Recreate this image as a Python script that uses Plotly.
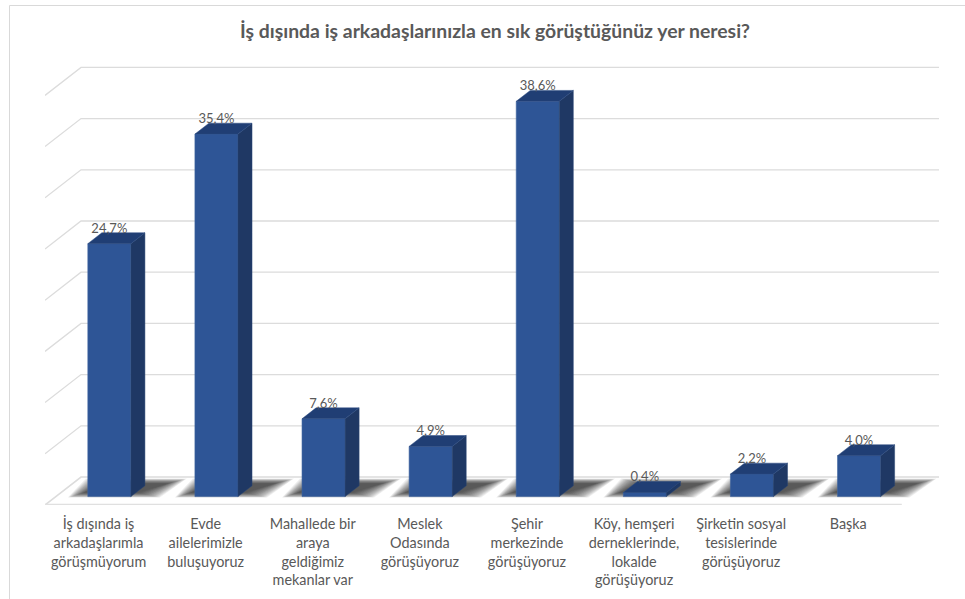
import plotly.graph_objects as go

# Survey answers and their shares (%)
categories = [
    "İş dışında iş<br>arkadaşlarımla<br>görüşmüyorum",
    "Evde<br>ailelerimizle<br>buluşuyoruz",
    "Mahallede bir<br>araya<br>geldiğimiz<br>mekanlar var",
    "Meslek<br>Odasında<br>görüşüyoruz",
    "Şehir<br>merkezinde<br>görüşüyoruz",
    "Köy, hemşeri<br>derneklerinde,<br>lokalde<br>görüşüyoruz",
    "Şirketin sosyal<br>tesislerinde<br>görüşüyoruz",
    "Başka",
]
shares = [24.7, 35.4, 7.6, 4.9, 38.6, 0.4, 2.2, 4.0]
grid_levels = [0, 5, 10, 15, 20, 25, 30, 35, 40]
title_text = "İş dışında iş arkadaşlarınızla en sık görüştüğünüz yer neresi?"

W, H = 965, 599
LEFT, RIGHT, TOP, BOTTOM = 45, 939, 60, 505
PX_X = 107.1   # pixels per category
PX_Y = 10.24   # pixels per percentage point
DEPTH_X = 36 / PX_X   # oblique projection of the full floor depth
DEPTH_Y = 28 / PX_Y
BAR_W = 0.402
D_FRONT, D_BACK = 0.30, 0.69

x_range = [-0.5, -0.5 + (RIGHT - LEFT) / PX_X]
y_range = [0, (BOTTOM - TOP) / PX_Y]


def project(x, v, d):
    """Oblique projection: category x, value v, depth d (0 front, 1 back)."""
    return x + d * DEPTH_X, v + d * DEPTH_Y


def polygon_path(points):
    return "M " + " L ".join(f"{x:.4f},{y:.4f}" for x, y in points) + " Z"


def faces(builder):
    xs, ys = [], []
    for i, v in enumerate(shares):
        for x, y in builder(i, v):
            xs.append(x)
            ys.append(y)
        xs.append(None)
        ys.append(None)
    return xs, ys


def side_face(i, v):
    r = i + BAR_W / 2
    return [project(r, 0, D_FRONT), project(r, 0, D_BACK),
            project(r, v, D_BACK), project(r, v, D_FRONT),
            project(r, 0, D_FRONT)]


def top_face(i, v):
    l, r = i - BAR_W / 2, i + BAR_W / 2
    return [project(l, v, D_FRONT), project(r, v, D_FRONT),
            project(r, v, D_BACK), project(l, v, D_BACK),
            project(l, v, D_FRONT)]


GRID = "#dcdcdc"
shapes = []


def line_shape(pts, width=1.4, color=GRID):
    shapes.append(dict(type="path", xref="x", yref="y", layer="below",
                       path="M " + " L ".join(f"{x:.4f},{y:.4f}" for x, y in pts),
                       line=dict(color=color, width=width)))


# Back wall gridlines with their diagonal returns towards the viewer
for level in grid_levels:
    line_shape([project(x_range[0], level, 0),
                project(x_range[0], level, 1),
                (x_range[1], level + DEPTH_Y)],
               width=1.6 if level == 0 else 1.3)
# Front edge of the floor
line_shape([(x_range[0], 0), (7.5, 0)], width=2.6, color="#e0e0e0")

# Soft floor shadows: stacked translucent parallelograms from wide to narrow
SHADOW_LAYERS = 18
for i in range(len(shares)):
    for k in range(SHADOW_LAYERS):
        t = k / (SHADOW_LAYERS - 1)
        def mix(a, b):
            return a + (b - a) * t
        front_px = mix(-1, 4)      # pixels above the bar's base line
        back_px = mix(18, 13)
        fl = mix(-20, -4) / PX_X
        fr = mix(72, 50) / PX_X
        bl = mix(-2, 16) / PX_X
        br = mix(99, 80) / PX_X
        x0 = i + D_FRONT * DEPTH_X - BAR_W / 2
        v0 = D_FRONT * DEPTH_Y
        pts = [(x0 + fl, v0 + front_px / PX_Y), (x0 + fr, v0 + front_px / PX_Y),
               (x0 + br, v0 + back_px / PX_Y), (x0 + bl, v0 + back_px / PX_Y)]
        shapes.append(dict(type="path", xref="x", yref="y", layer="below",
                           path=polygon_path(pts), fillcolor="rgba(40,40,40,0.075)",
                           line=dict(width=0)))

# Outer frame of the chart area, open towards the right and bottom
frame_x = (9.5 - LEFT) / (RIGHT - LEFT)
frame_y = (BOTTOM - 5.5) / (BOTTOM - TOP)
frame_bottom = (BOTTOM - H) / (BOTTOM - TOP)
frame_right = (W - LEFT) / (RIGHT - LEFT)
shapes.append(dict(type="line", xref="paper", yref="paper", layer="below",
                   x0=frame_x, x1=frame_x, y0=frame_bottom, y1=frame_y,
                   line=dict(color="#d9d9d9", width=1)))
shapes.append(dict(type="line", xref="paper", yref="paper", layer="below",
                   x0=frame_x, x1=frame_right, y0=frame_y, y1=frame_y,
                   line=dict(color="#d9d9d9", width=1)))

fig = go.Figure()

# Front faces of the columns
fig.add_trace(go.Bar(
    x=[i + D_FRONT * DEPTH_X for i in range(len(shares))],
    y=shares,
    base=D_FRONT * DEPTH_Y,
    width=BAR_W,
    marker=dict(color="#2e5596", line=dict(color="#3f659f", width=0.6)),
    hoverinfo="skip",
    showlegend=False,
))

# Side and top faces
sx, sy = faces(side_face)
fig.add_trace(go.Scatter(x=sx, y=sy, mode="lines", fill="toself",
                         fillcolor="#1f3864", line=dict(color="#2a4675", width=0.5),
                         hoverinfo="skip", showlegend=False))
tx, ty = faces(top_face)
fig.add_trace(go.Scatter(x=tx, y=ty, mode="lines", fill="toself",
                         fillcolor="#203e74", line=dict(color="#2a4a80", width=0.5),
                         hoverinfo="skip", showlegend=False))

# Value labels resting on each column, slightly overlapping its back edge
lx = [i + D_FRONT * DEPTH_X for i in range(len(shares))]
ly = [v + D_BACK * DEPTH_Y - 0.3 for v in shares]
fig.add_trace(go.Scatter(
    x=lx, y=ly, mode="text",
    text=[f"{v:.1f}".replace(".", ",") + "%" for v in shares],
    textposition="top center",
    textfont=dict(family="Lato", size=13, color="#595959"),
    hoverinfo="skip", showlegend=False, cliponaxis=False,
))

fig.update_layout(
    width=W, height=H,
    margin=dict(l=LEFT, r=W - RIGHT, t=TOP, b=H - BOTTOM, autoexpand=False),
    paper_bgcolor="white", plot_bgcolor="rgba(0,0,0,0)",
    barmode="overlay",
    shapes=shapes,
    title=dict(text=f"<b>{title_text}</b>", x=(240 + 750) / 2 / W, xanchor="center",
               y=1 - 31 / H, yanchor="middle",
               font=dict(family="Lato", size=19.4, color="#595959")),
    xaxis=dict(range=x_range, tickmode="array",
               tickvals=list(range(len(categories))), ticktext=categories,
               showgrid=False, zeroline=False, showline=False,
               ticks="outside", ticklen=6, tickcolor="rgba(0,0,0,0)",
               tickfont=dict(family="Lato", size=14.4, color="#595959")),
    yaxis=dict(range=y_range, visible=False, showgrid=False, zeroline=False),
)

fig.write_html("out.html")
